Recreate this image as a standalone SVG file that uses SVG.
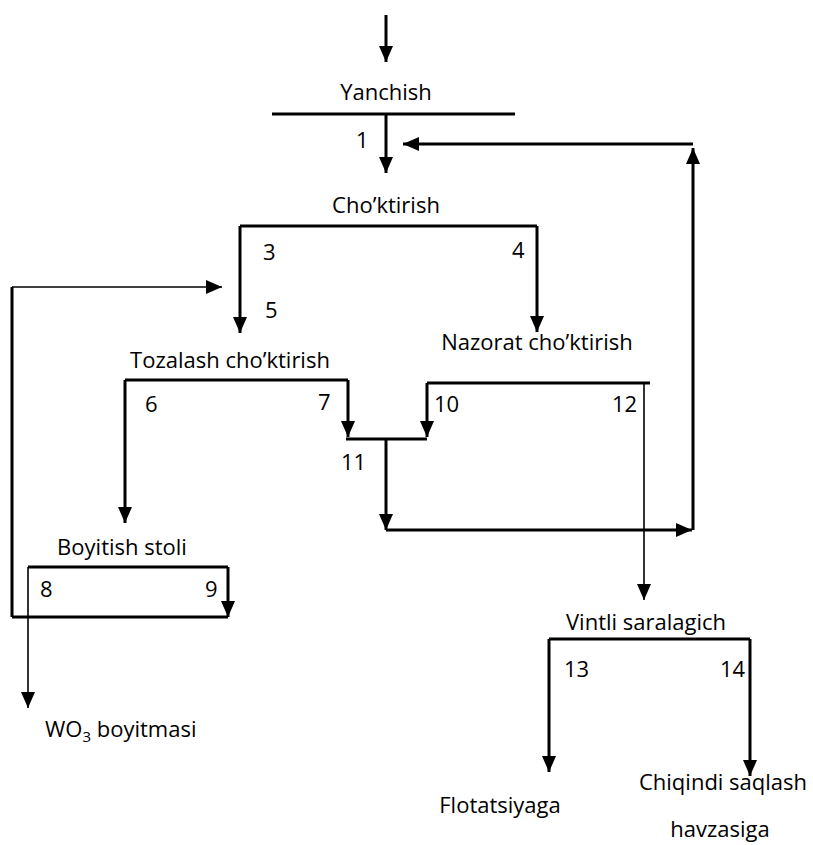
<svg xmlns="http://www.w3.org/2000/svg" width="813" height="845" viewBox="0 0 813 845">
<style>
text{font-family:"Open Sans","Liberation Sans",Arial,sans-serif;font-size:22px;fill:#000}
.lbl{text-anchor:middle}
.thick{stroke:#000;stroke-width:3;fill:none}
.thin{stroke:#000;stroke-width:1.6;fill:none}
.arr{marker-end:url(#ah)}
</style>
<defs>
<marker id="ah" markerUnits="userSpaceOnUse" markerWidth="16" markerHeight="14" refX="16" refY="7" orient="auto">
<path d="M0,0 L16,7 L0,14 z" fill="#000"/>
</marker>
</defs>
<rect width="813" height="845" fill="#fff"/>

<g id="yanchish">
<text class="lbl" x="386" y="100">Yanchish</text>
<path class="thick" d="M272,114 H515"/>
</g>
<g id="choktirish">
<text class="lbl" x="386" y="213">Cho’ktirish</text>
<path class="thick" d="M240,226 H537"/>
</g>
<g id="tozalash">
<text class="lbl" x="230" y="368">Tozalash cho’ktirish</text>
<path class="thick" d="M125,380 H348"/>
</g>
<g id="nazorat">
<text class="lbl" x="537" y="350">Nazorat cho’ktirish</text>
<path class="thick" d="M427,383 H650"/>
</g>
<g id="boyitish">
<text class="lbl" x="122" y="555">Boyitish stoli</text>
<path class="thick" d="M28,567 H228"/>
</g>
<g id="vintli">
<text class="lbl" x="646" y="630">Vintli saralagich</text>
<path class="thick" d="M549,639 H750"/>
</g>
<g id="wo3">
<text x="45" y="737">WO<tspan font-size="15" dy="5">3</tspan><tspan dy="-5"> boyitmasi</tspan></text>
</g>
<g id="flotatsiyaga">
<text class="lbl" x="500" y="813">Flotatsiyaga</text>
</g>
<g id="chiqindi">
<text class="lbl" x="723" y="790">Chiqindi saqlash</text>
<text class="lbl" x="720" y="837">havzasiga</text>
</g>

<g id="connectors">
<path class="thick arr" d="M386,15 V62"/>
<path class="thick arr" d="M386,114 V173"/>
<path class="thick arr" d="M693,144 H403"/>
<path class="thick arr" d="M693,530 V148"/>
<path class="thick arr" d="M240,226 V333"/>
<path class="thick arr" d="M537,226 V332"/>
<path class="thick" d="M12,617 V287"/>
<path class="thin arr" d="M12,287 H222"/>
<path class="thick arr" d="M125,380 V523"/>
<path class="thick arr" d="M348,380 V437"/>
<path class="thick" d="M346,439 H427"/>
<path class="thick arr" d="M427,383 V437"/>
<path class="thin arr" d="M644,383 V600"/>
<path class="thick arr" d="M386,439 V530"/>
<path class="thick arr" d="M386,530 H692"/>
<path class="thick arr" d="M228,567 V617"/>
<path class="thick" d="M12,617 H228"/>
<path class="thin arr" d="M28,567 V708"/>
<path class="thick arr" d="M549,639 V772"/>
<path class="thick arr" d="M750,639 V776"/>
</g>

<g id="flow-labels">
<text x="356" y="148">1</text>
<text x="263" y="260">3</text>
<text x="512" y="258">4</text>
<text x="265" y="318">5</text>
<text x="145" y="412">6</text>
<text x="318" y="410">7</text>
<text x="434" y="412">10</text>
<text x="612" y="412">12</text>
<text x="341" y="470">11</text>
<text x="40" y="597">8</text>
<text x="205" y="597">9</text>
<text x="564" y="677">13</text>
<text x="720" y="677">14</text>
</g>
</svg>
